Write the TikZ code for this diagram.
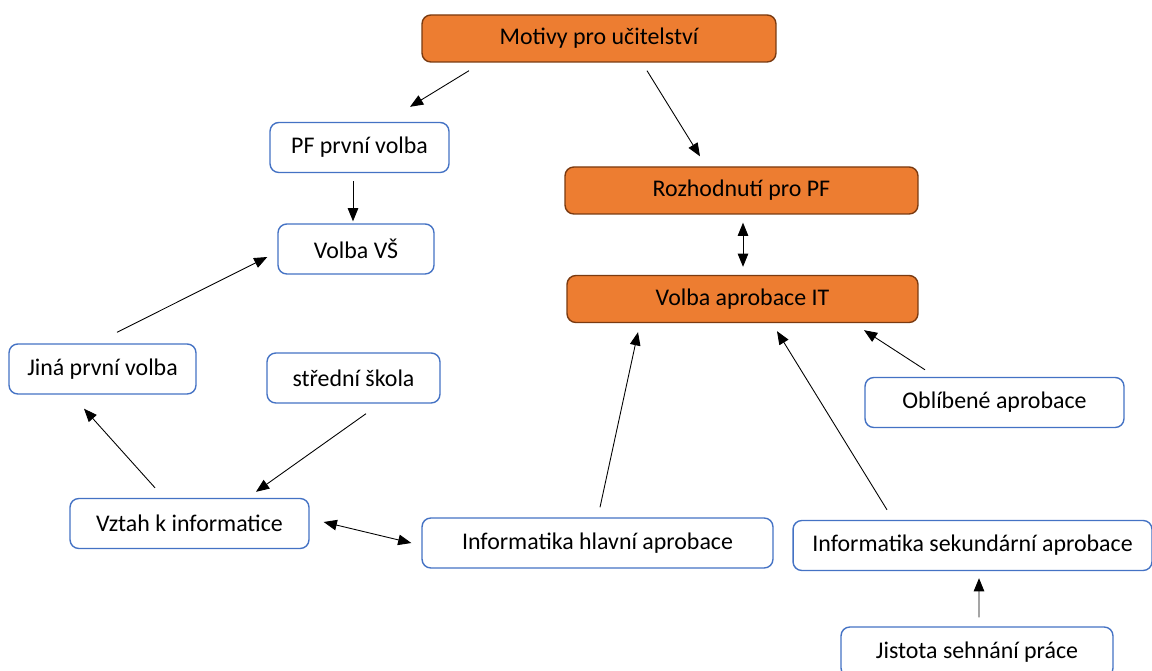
\documentclass[tikz,border=0pt]{standalone}
\usepackage{fontspec}
\setmainfont{Carlito}
\usepackage{xcolor}
\usetikzlibrary{arrows.meta, calc}

\definecolor{motivorange}{HTML}{ED7D31}
\definecolor{motivbrown}{HTML}{7A3A10}
\definecolor{motivblue}{HTML}{4472C4}

\begin{document}
\begin{tikzpicture}[
  x=0.02cm, y=-0.02cm,
  mainbox/.style={
    rectangle,
    draw=motivbrown,
    fill=motivorange,
    line width=0.8pt,
    minimum width=#1,
    minimum height=0.94cm,
    rounded corners=5pt,
    font=\fontsize{13.6}{16}\selectfont,
    align=center
  },
  subbox/.style={
    rectangle,
    draw=motivblue,
    fill=white,
    line width=0.8pt,
    minimum width=#1,
    minimum height=1cm,
    rounded corners=5pt,
    font=\fontsize{13.6}{16}\selectfont,
    align=center
  },
  link/.style={
    -{Triangle[length=7.5pt,width=6pt]},
    line width=0.5pt,
    draw=black
  },
  dlink/.style={
    {Triangle[length=7.5pt,width=6pt]}-{Triangle[length=7.5pt,width=6pt]},
    line width=0.5pt,
    draw=black
  }
]
\useasboundingbox (0,0) rectangle (1152,671);

% Orange main boxes
\node[mainbox=7.08cm] (motivy) at (599,38.5) {Motivy pro učitelství};
\node[mainbox=7.06cm] (rozh) at (741.5,190.5) {Rozhodnutí pro PF};
\node[mainbox=7.02cm] (vapr) at (742.5,299) {Volba aprobace IT};

% Blue boxes
\node[subbox=3.58cm] (pf) at (359.5,147.5) {PF první volba};
\node[subbox=3.12cm] (vs) at (356,249) {Volba VŠ};
\node[subbox=3.74cm] (jina) at (102.5,369) {Jiná první volba};
\node[subbox=3.46cm] (stredni) at (353.5,378) {střední škola};
\node[subbox=5.18cm] (obl) at (994.5,402.5) {Oblíbené aprobace};
\node[subbox=4.78cm] (vztah) at (189.5,523.5) {Vztah k informatice};
\node[subbox=7.02cm] (hlavni) at (597.5,543) {Informatika hlavní aprobace};
\node[subbox=7.18cm] (sek) at (972.5,545.5) {Informatika sekundární aprobace};
\node[subbox=5.44cm] (jistota) at (977,652) {Jistota sehnání práce};

% Connections
\draw[link] ($(motivy.south)+(-130,8)$) -- ($(pf.north)+(50.5,-15)$);
\draw[link] ($(motivy.south)+(48,8)$) -- ($(rozh.north)+(-41.5,-10)$);
\draw[link] ($(pf.south)+(-6.5,8)$) -- ($(vs.north)+(-3,-2)$);
\draw[dlink] ($(rozh.south)+(1.5,8)$) -- ($(vapr.north)+(0.5,-8)$);
\draw[link] ($(jina.north)+(14.5,-11)$) -- ($(vs.west)+(-10,8)$);
\draw[link] ($(vztah.north)+(-34.5,-10)$) -- ($(jina.south)+(-18.5,14)$);
\draw[link] ($(stredni.south)+(12.5,10)$) -- ($(vztah.north)+(66.5,-6)$);
\draw[dlink] ($(vztah.east)+(14,-1.5)$) -- ($(hlavni.west)+(-10,0)$);
\draw[link] ($(hlavni.north)+(2.5,-10)$) -- ($(vapr.south)+(-104.5,9)$);
\draw[link] ($(sek.north)+(-85.5,-10)$) -- ($(vapr.south)+(34.5,8)$);
\draw[link] ($(obl.north)+(-69.5,-7)$) -- ($(vapr.south)+(121.5,7)$);
\draw[link] ($(jistota.north)+(2,-9)$) -- ($(sek.south)+(6.5,7)$);
\end{tikzpicture}
\end{document}
